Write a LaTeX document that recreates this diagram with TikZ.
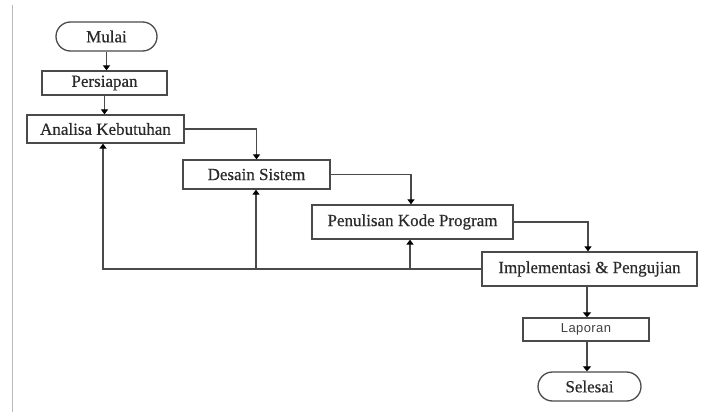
\documentclass[tikz,border=0pt]{standalone}
\usepackage{fontspec}
\setmainfont{Liberation Serif}
\newfontfamily\stepfont{Liberation Serif}[FakeBold=0.5]
\newfontfamily\labelsans{Liberation Sans}[LetterSpace=3]
\usetikzlibrary{arrows.meta}
\definecolor{ink}{HTML}{4A4A4A}
\definecolor{txt}{HTML}{2A2A2A}
\begin{document}
\begin{tikzpicture}[x=1pt,y=-1pt,
  box/.style={draw=ink,line width=1.3pt,rectangle,inner sep=0pt,text=txt,
    font=\stepfont\fontsize{17}{19}\selectfont},
  term/.style={box,rounded corners=14.5pt},
  arr/.style={draw=ink,line width=1.5pt,-{Triangle[length=5pt,width=7pt,color=black]}},
  thickarr/.style={arr,line width=2.3pt,-{Triangle[length=5pt,width=8pt,color=black]}}]
\useasboundingbox (0,0) rectangle (715,412);
% margin rule on the left
\draw[gray!55,line width=1pt] (12,5) -- (12,412);

% process steps
\node[term,minimum width=101pt,minimum height=29pt] (mulai) at (106.5,36.5) {Mulai};
\node[box,minimum width=125pt,minimum height=24pt] (persiapan) at (104.5,83) {Persiapan};
\node[box,minimum width=157pt,minimum height=28pt] (analisa) at (105.5,129) {Analisa Kebutuhan};
\node[box,minimum width=147pt,minimum height=29pt] (desain) at (256.5,174.5) {Desain Sistem};
\node[box,minimum width=201pt,minimum height=34pt] (kode) at (412.5,222) {Penulisan Kode Program};
\node[box,minimum width=215pt,minimum height=34pt] (impl) at (589.5,269) {Implementasi \& Pengujian};
\node[box,minimum width=126pt,minimum height=23pt,text=black!75,
  font=\labelsans\fontsize{13}{15}\selectfont] (laporan) at (586,329.5) {Laporan};
\node[term,minimum width=103pt,minimum height=29pt] (selesai) at (589.5,386.5) {Selesai};

% main flow
\draw[arr] (mulai.south) -- (mulai.south |- persiapan.north);
\draw[arr] (persiapan.south) -- (persiapan.south |- analisa.north);
\draw[arr] (analisa.east) -| (desain.north);
\draw[arr] ([xshift=-1.5pt]desain.east) -| ([xshift=-1.5pt]kode.north);
\draw[arr] (kode.east) -| ([xshift=-1.5pt]impl.north);
\draw[thickarr] ([xshift=1pt]laporan.north |- impl.south) -- ([xshift=1pt]laporan.north);
\draw[thickarr] ([xshift=1pt]laporan.south) -- ([xshift=1pt]laporan.south |- selesai.north);

% feedback paths from testing back to earlier stages
\draw[arr] (impl.west) -| ([xshift=-2.5pt]analisa.south);
\draw[arr] (impl.west) -| ([xshift=-0.5pt]desain.south);
\draw[arr] (impl.west) -| ([xshift=-2.5pt]kode.south);
\end{tikzpicture}
\end{document}
